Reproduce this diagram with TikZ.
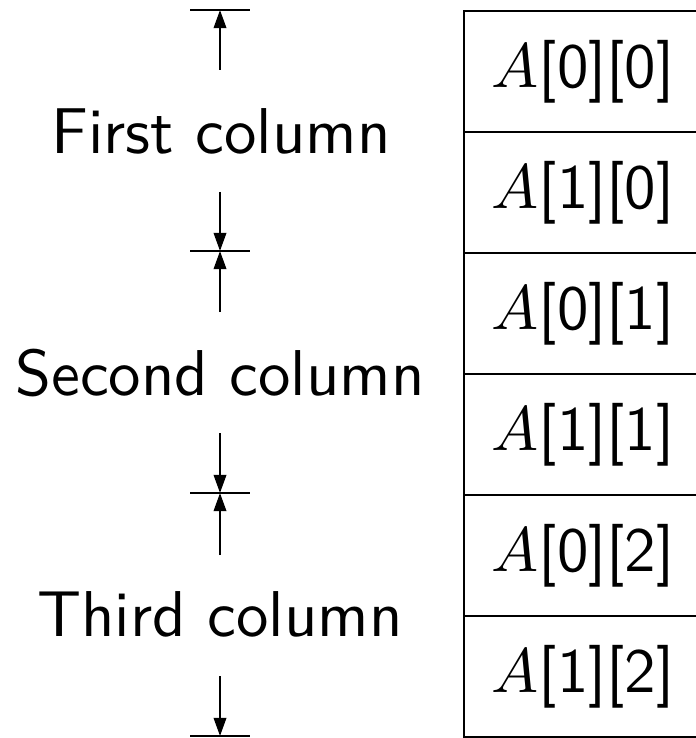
\documentclass[tikz,border=0pt]{standalone}
\usetikzlibrary{arrows.meta}
\begin{document}
\begin{tikzpicture}[x=0.159pt,y=-0.159pt,
  line/.style={line width=0.33pt},
  dimarrow/.style={line width=0.33pt,-{Triangle[length=2.9pt,width=2pt]}},
  celltext/.style={font=\sffamily},
  collabel/.style={font=\fontsize{10.3}{12}\sffamily\selectfont}]
\useasboundingbox (0,0) rectangle (695,738);
% memory cells
\foreach \i/\t in {0/{$A$[0][0]},1/{$A$[1][0]},2/{$A$[0][1]},3/{$A$[1][1]},4/{$A$[0][2]},5/{$A$[1][2]}}{
  \node[line,draw,minimum width=238*0.159pt,minimum height=121*0.159pt,anchor=north west,inner sep=0pt,celltext]
    (c\i) at (463,{10+121*\i}) {\t};
}
% ticks
\foreach \k/\y in {0/10,1/251,2/493,3/736}{
  \coordinate (tl\k) at (190,\y);
  \coordinate (tr\k) at (250,\y);
  \coordinate (t\k) at (220,\y);
  \draw[line] (tl\k) -- (tr\k);
}
% labels
\node[collabel] (l1) at (221,131) {First column};
\node[collabel] (l2) at (220,373) {Second column};
\node[collabel] (l3) at (220,614) {Third column};
% arrow start points
\coordinate (a0) at (220,70);
\coordinate (b1) at (220,192);
\coordinate (a1) at (220,312);
\coordinate (b2) at (220,433);
\coordinate (a2) at (220,555);
\coordinate (b3) at (220,676);
\draw[dimarrow] (a0) -- (t0);
\draw[dimarrow] (b1) -- (t1);
\draw[dimarrow] (a1) -- (t1);
\draw[dimarrow] (b2) -- (t2);
\draw[dimarrow] (a2) -- (t2);
\draw[dimarrow] (b3) -- (t3);
\end{tikzpicture}
\end{document}
